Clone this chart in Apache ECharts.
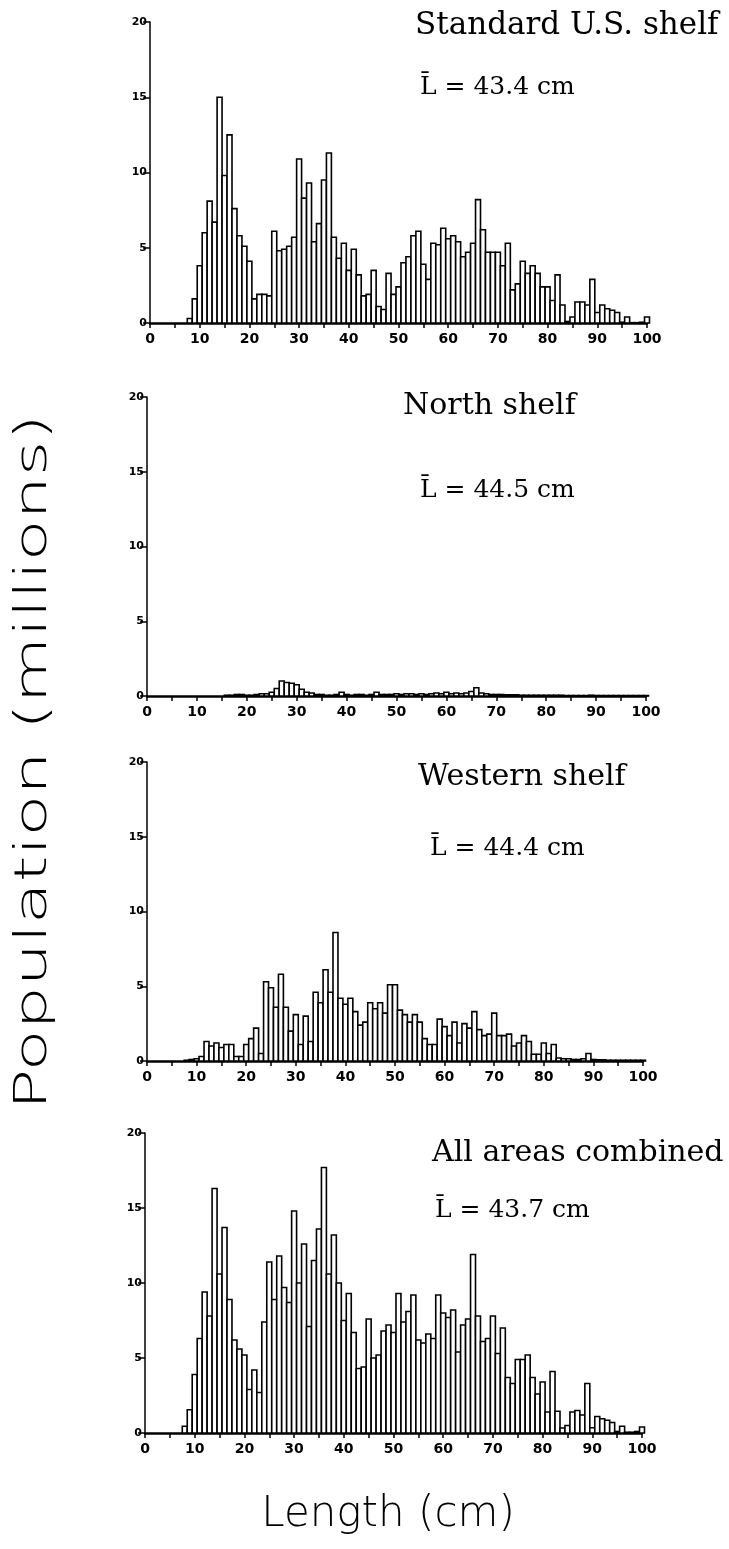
<!DOCTYPE html>
<html>
<head>
<meta charset="utf-8">
<script src="https://cdn.jsdelivr.net/npm/echarts@6/dist/echarts.min.js"></script>
<style>
html,body{margin:0;padding:0;background:#fff;}
#chart{width:729px;height:1549px;}
</style>
</head>
<body>
<div id="chart"></div>
<script>
// Length classes (cm)
const lengths = [1,2,3,4,5,6,7,8,9,10,11,12,13,14,15,16,17,18,19,20,21,22,23,24,25,26,27,28,29,30,31,32,33,34,35,36,37,38,39,40,41,42,43,44,45,46,47,48,49,50,51,52,53,54,55,56,57,58,59,60,61,62,63,64,65,66,67,68,69,70,71,72,73,74,75,76,77,78,79,80,81,82,83,84,85,86,87,88,89,90,91,92,93,94,95,96,97,98,99,100];

// Population (millions) per 1-cm length class
const standardShelf = [
  0,0,0,0,0,0,0,0.3,1.6,3.8,
  6.0,8.1,6.7,15.0,9.8,12.5,7.6,5.8,5.1,4.1,
  1.6,1.9,1.9,1.8,6.1,4.8,4.9,5.1,5.7,10.9,
  8.3,9.3,5.4,6.6,9.5,11.3,5.7,4.3,5.3,3.5,
  4.9,3.2,1.8,1.9,3.5,1.1,0.9,3.3,1.9,2.4,
  4.0,4.4,5.8,6.1,3.9,2.9,5.3,5.2,6.3,5.6,
  5.8,5.4,4.4,4.7,5.3,8.2,6.2,4.7,4.7,4.7,
  3.8,5.3,2.2,2.6,4.1,3.3,3.8,3.3,2.4,2.4,
  1.5,3.2,1.2,0.1,0.4,1.4,1.4,1.2,2.9,0.7,
  1.2,0.95,0.85,0.7,0.05,0.4,0.02,0.02,0.05,0.4
];
const northShelf = [
  0,0,0,0,0,0,0,0,0,0,
  0,0,0,0,0,0.05,0.05,0.1,0.1,0.05,
  0.05,0.1,0.15,0.15,0.25,0.5,1.0,0.9,0.85,0.75,
  0.45,0.25,0.2,0.1,0.1,0.05,0.05,0.1,0.25,0.1,
  0.05,0.1,0.1,0.05,0.1,0.25,0.1,0.1,0.1,0.15,
  0.1,0.15,0.15,0.1,0.15,0.1,0.15,0.2,0.15,0.25,
  0.15,0.2,0.15,0.2,0.3,0.55,0.2,0.15,0.1,0.1,
  0.1,0.08,0.08,0.08,0.05,0.05,0.05,0.05,0.05,0.05,
  0.05,0.05,0.05,0.03,0.03,0.03,0.03,0.03,0.05,0.03,
  0.03,0.03,0.03,0.03,0.03,0.03,0.03,0.03,0.03,0.03
];
const westernShelf = [
  0,0,0,0,0,0,0,0.05,0.1,0.15,
  0.3,1.3,1.0,1.2,0.9,1.1,1.1,0.3,0.3,1.1,
  1.5,2.2,0.5,5.3,4.9,3.6,5.8,3.6,2.0,3.1,
  1.1,3.0,1.3,4.6,3.9,6.1,4.6,8.6,4.2,3.8,
  4.2,3.3,2.4,2.6,3.9,3.5,3.9,3.2,5.1,5.1,
  3.4,3.1,2.6,3.1,2.6,1.5,1.1,1.1,2.8,2.3,
  1.7,2.6,1.2,2.5,2.2,3.3,2.1,1.7,1.8,3.2,
  1.7,1.7,1.8,1.0,1.2,1.7,1.3,0.45,0.45,1.2,
  0.5,1.1,0.2,0.15,0.15,0.1,0.1,0.15,0.5,0.1,
  0.08,0.08,0.05,0.05,0.05,0.05,0.05,0.05,0.05,0.05
];
const allAreas = [
  0,0,0,0,0,0,0,0.45,1.55,3.9,
  6.3,9.4,7.8,16.3,10.6,13.7,8.9,6.2,5.6,5.2,
  2.9,4.2,2.7,7.4,11.4,8.9,11.8,9.7,8.7,14.8,
  10.0,12.6,7.1,11.5,13.6,17.7,10.6,13.2,10.0,7.5,
  9.3,6.7,4.3,4.4,7.6,5.0,5.2,6.8,7.2,6.7,
  9.3,7.4,8.1,9.2,6.2,6.0,6.6,6.3,9.2,8.0,
  7.7,8.2,5.4,7.2,7.6,11.9,7.8,6.1,6.3,7.8,
  5.3,7.0,3.7,3.3,4.9,4.9,5.2,3.7,2.6,3.4,
  1.4,4.1,1.45,0.33,0.5,1.4,1.5,1.2,3.3,0.35,
  1.1,0.95,0.85,0.7,0.1,0.45,0.05,0.05,0.1,0.4
];

const panelTitles = ['Standard U.S. shelf','North shelf','Western shelf','All areas combined'];
const meanLabels = ['L\u0304 = 43.4 cm','L\u0304 = 44.5 cm','L\u0304 = 44.4 cm','L\u0304 = 43.7 cm'];
const yTicks = [0,5,10,15,20];
const xTicks = [0,10,20,30,40,50,60,70,80,90,100];
const yAxisTitle = 'Population (millions)';
const xAxisTitle = 'Length (cm)';

const seriesData = [standardShelf, northShelf, westernShelf, allAreas];

// layout (pixels)
const grids = [
  {left:150, top:22,   width:497, height:301},
  {left:147, top:397,  width:499, height:299},
  {left:147, top:762,  width:496, height:299},
  {left:145, top:1133, width:497, height:300}
];
const titlePos = [[415,26,31],[403,406,30],[418,777,30],[432,1153,30]];
const meanPos  = [[420,87],[420,490],[430,848],[435,1210]];

const tickFont = 'DejaVu Sans';
const chart = echarts.init(document.getElementById('chart'), null, {renderer:'canvas'});

const option = {
  backgroundColor:'#ffffff',
  animation:false,
  grid: grids.map(g => Object.assign({containLabel:false}, g)),
  xAxis: grids.map((g,i) => ({
    gridIndex:i, type:'value', min:0, max:100, interval:10,
    axisLine:{show:true, onZero:false, lineStyle:{color:'#000', width:2.5}},
    axisTick:{show:true, length:5, lineStyle:{color:'#000', width:1.5}},
    minorTick:{show:true, splitNumber:2, length:5, lineStyle:{color:'#000', width:1.5}},
    splitLine:{show:false},
    axisLabel:{color:'#000', fontFamily:tickFont, fontWeight:'bold', fontSize:14, margin:9,
      formatter: v => (xTicks.indexOf(v) >= 0 ? String(v) : '')}
  })),
  yAxis: grids.map((g,i) => ({
    gridIndex:i, type:'value', min:0, max:20, interval:5,
    axisLine:{show:true, lineStyle:{color:'#000', width:1.5}},
    axisTick:{show:true, length:7, lineStyle:{color:'#000', width:1.5}},
    splitLine:{show:false},
    axisLabel:{color:'#000', fontFamily:tickFont, fontWeight:'bold', fontSize:11, margin:3,
      formatter: v => (yTicks.indexOf(v) >= 0 ? String(v) : '')}
  })),
  series: seriesData.map((arr,i) => ({
    type:'custom',
    xAxisIndex:i, yAxisIndex:i,
    clip:false,
    data: lengths.map((L,j) => [L, arr[j]]).filter(d => d[1] > 0),
    renderItem: function(params, api){
      const k = api.value(0), v = api.value(1);
      const p0 = api.coord([k - 0.5, v]);
      const p1 = api.coord([k + 0.5, 0]);
      return {
        type:'rect',
        shape:{x:p0[0], y:p0[1], width:p1[0]-p0[0], height:p1[1]-p0[1]},
        style:{fill:'#ffffff', stroke:'#000000', lineWidth:1.6}
      };
    }
  })),
  graphic: [].concat(
    panelTitles.map((t,i) => ({
      type:'text', x:titlePos[i][0], y:titlePos[i][1],
      style:{text:t, fill:'#000', font:'normal '+titlePos[i][2]+'px "DejaVu Serif"', align:'left', verticalAlign:'middle'}
    })),
    meanLabels.map((t,i) => ({
      type:'text', x:meanPos[i][0], y:meanPos[i][1],
      style:{text:t, fill:'#000', font:'normal 25px "DejaVu Serif"', align:'left', verticalAlign:'middle'}
    })),
    [{
      type:'text', x:35, y:762, rotation:Math.PI/2, scaleX:1.55,
      style:{text:yAxisTitle, fill:'#000', font:'200 44px "DejaVu Sans"', align:'center', verticalAlign:'middle'}
    },{
      type:'text', x:388, y:1515,
      style:{text:xAxisTitle, fill:'#000', font:'200 42px "DejaVu Sans"', align:'center', verticalAlign:'middle'}
    }]
  )
};
chart.setOption(option);
</script>
</body>
</html>
